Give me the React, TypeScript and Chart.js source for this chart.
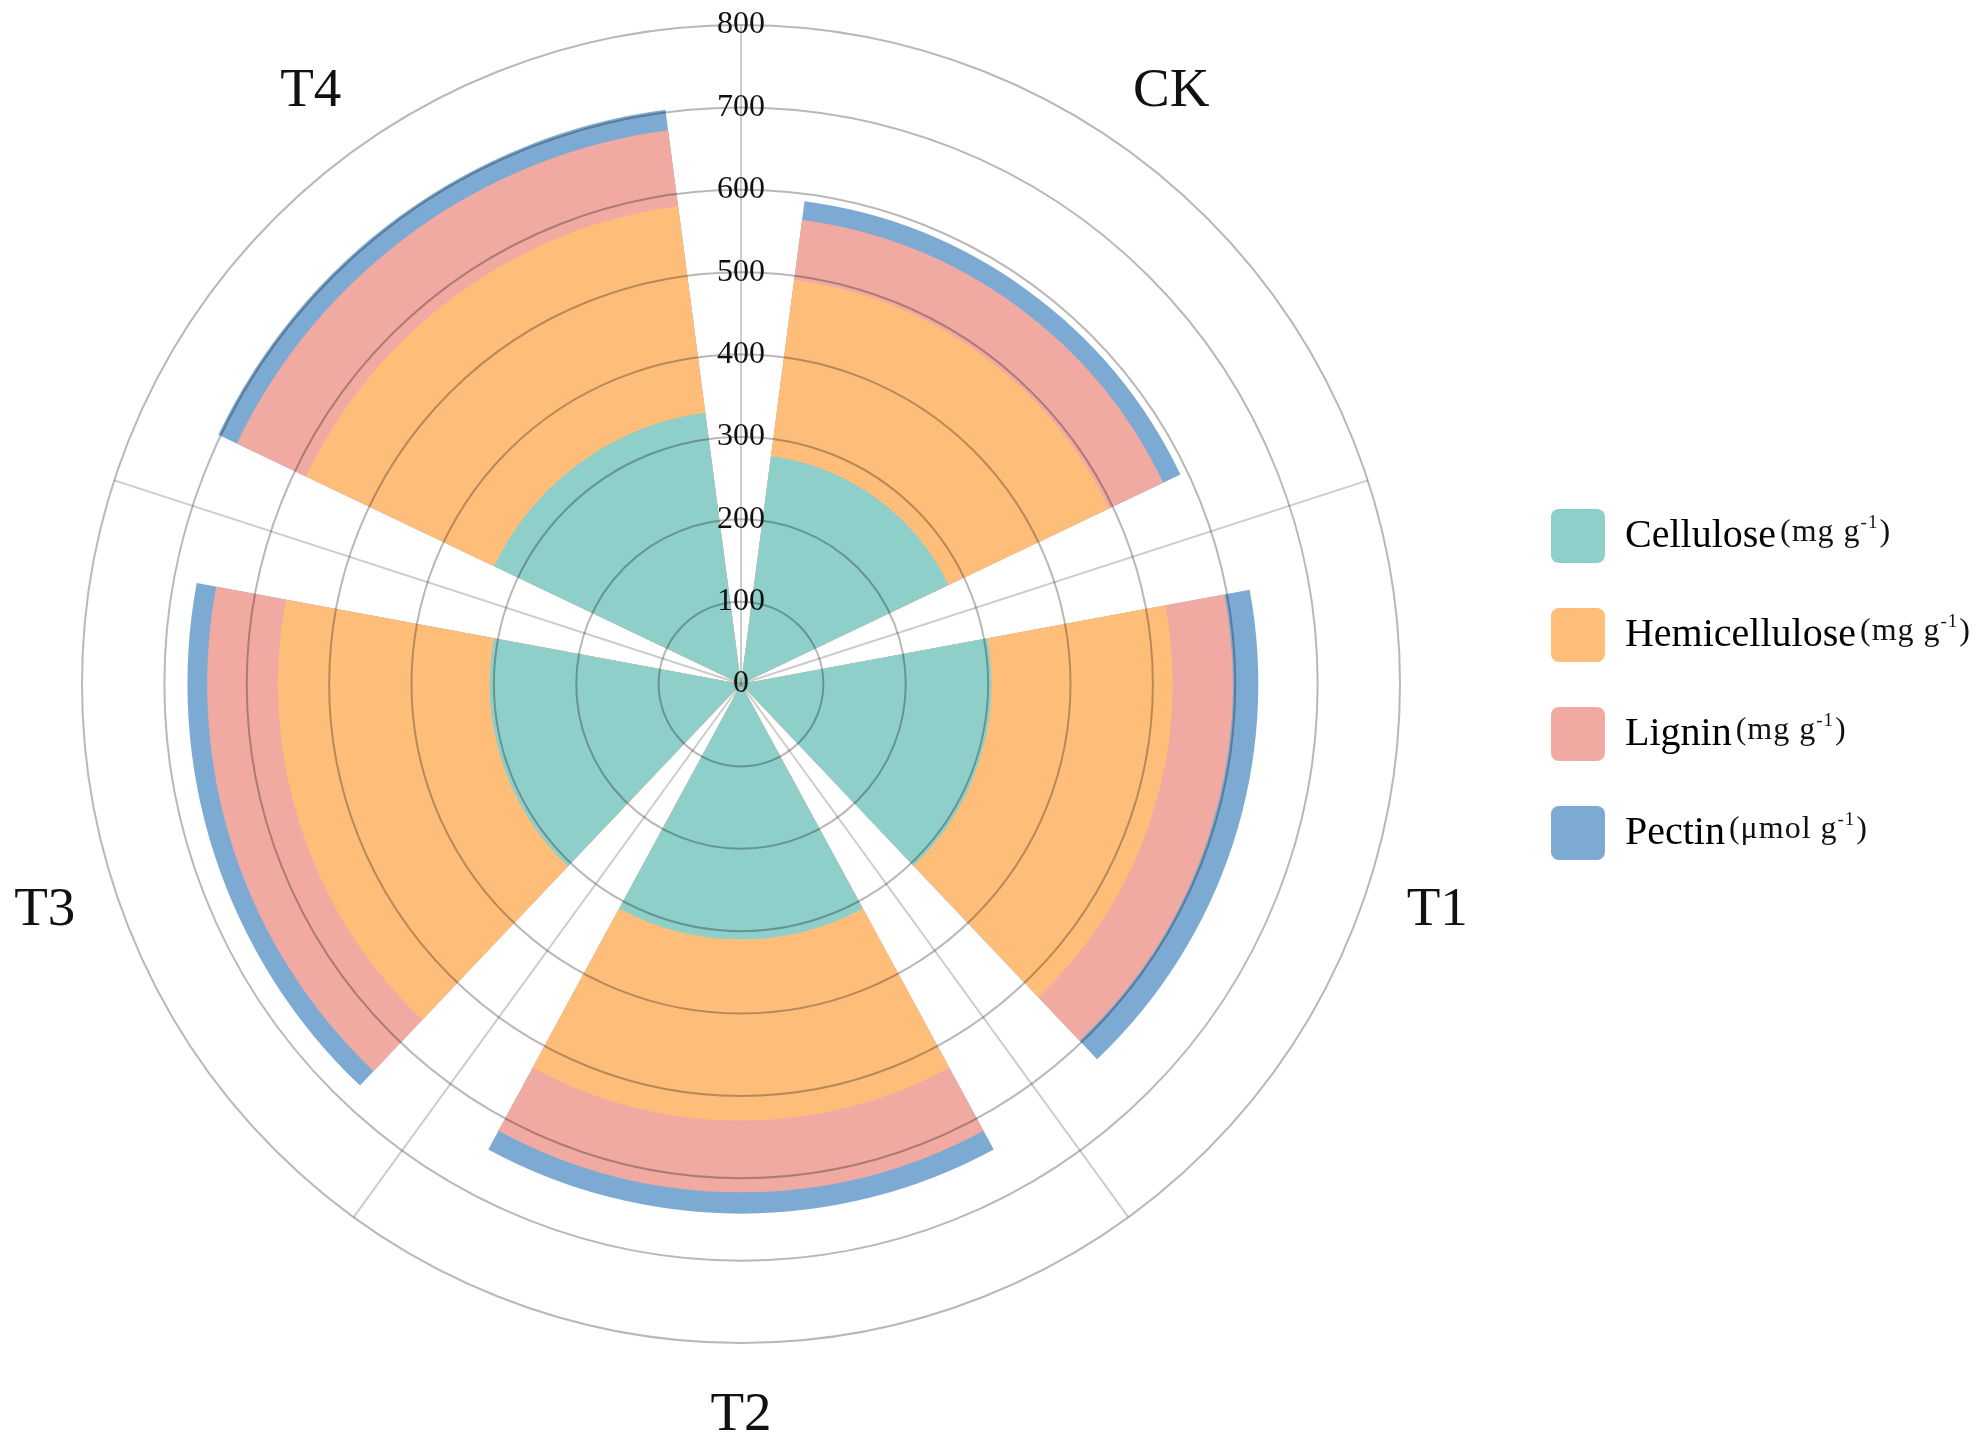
import { useEffect, useRef } from "react"
import { Chart, registerables } from "chart.js"

Chart.register(...registerables)

const SERIF = "'Liberation Serif', 'Times New Roman', Times, serif"

// treatments, clockwise from the top
const groups = ["CK", "T1", "T2", "T3", "T4"]

// thickness of each layer
const cellulose = [279, 304, 310, 305, 332]
const hemicellulose = [216, 220, 220, 257, 253]
const lignin = [73, 73, 87, 86, 93]
const pectin = [23, 31, 26, 24, 25]

const seriesNames = ["Cellulose", "Hemicellulose", "Lignin", "Pectin"]
const seriesUnits = ["(mg g", "(mg g", "(mg g", "(μmol g"]
const seriesColors = ["#8ECFC9", "#FFBD7A", "#F1AAA1", "#7DAAD3"]

// radial axis tick labels
const radialTicks = [0, 100, 200, 300, 400, 500, 600, 700, 800]

// each treatment gets 72°, of which this much is filled
const WEDGE = 57
const GAP = 360 / groups.length - WEDGE

// gap/2, wedge, gap, wedge, ... , wedge, gap/2
const slotAngles: number[] = [GAP / 2]
groups.forEach((_, i) => {
  slotAngles.push(WEDGE)
  slotAngles.push(i === groups.length - 1 ? GAP / 2 : GAP)
})

function toSlots(values: number[]) {
  const out: number[] = [0]
  values.forEach((v) => out.push(v, 0))
  return out
}

const series = [cellulose, hemicellulose, lignin, pectin]
// running totals so the layers look stacked (first drawn on top)
const stacked = series.map((_, k) =>
  groups.map((_, i) => series.slice(0, k + 1).reduce((s, arr) => s + arr[i], 0)),
)

// canvas / layout sizes
const CANVAS_W = 1992
const CANVAS_H = 1425
const AREA_W = 1530
const LEGEND_FONT = 40
const LEGEND_BOX = 54
const LEGEND_PAD = 45

const overlayText = {
  id: "overlayText",
  afterDraw(chart: any) {
    const ctx: CanvasRenderingContext2D = chart.ctx
    const r = chart.scales.r
    ctx.save()
    ctx.fillStyle = "#111"
    ctx.textAlign = "center"
    ctx.textBaseline = "middle"

    // the scale skips its first tick, draw the 0 at the centre
    ctx.font = `32px ${SERIF}`
    ctx.fillText(String(radialTicks[0]), r.xCenter, r.yCenter)

    // treatment names outside the rings
    ctx.font = `55px ${SERIF}`
    groups.forEach((g, i) => {
      const p = r.getPointPosition(i, r.drawingArea + 73, Math.PI / groups.length)
      ctx.fillText(g, p.x, p.y)
    })

    // units after the legend names, smaller with a superscript
    const boxes = chart.legend?.legendHitBoxes ?? []
    boxes.forEach((b: any, i: number) => {
      ctx.font = `${LEGEND_FONT}px ${SERIF}`
      ctx.textBaseline = "middle"
      const mid = b.top + b.height / 2
      const base = mid + ctx.measureText("H").actualBoundingBoxDescent - 6
      ctx.textBaseline = "alphabetic"
      ctx.textAlign = "left"
      ;(ctx as any).letterSpacing = "1px"
      let x = b.left + b.width + 4
      ctx.font = `32px ${SERIF}`
      ctx.fillText(seriesUnits[i], x, base)
      x += ctx.measureText(seriesUnits[i]).width
      ctx.font = `19px ${SERIF}`
      ctx.fillText("-1", x, base - 13)
      x += ctx.measureText("-1").width + 1
      ctx.font = `32px ${SERIF}`
      ctx.fillText(")", x, base)
      ;(ctx as any).letterSpacing = "0px"
    })
    ctx.restore()
  },
}

export default function App() {
  const canvasRef = useRef<HTMLCanvasElement>(null)

  useEffect(() => {
    if (!canvasRef.current) return

    // legend width is padding + box + half font + longest name (+ a few px
    // chart.js adds); the rest goes on the right so the rings stay put
    const mctx = document.createElement("canvas").getContext("2d")!
    mctx.font = `${LEGEND_FONT}px ${SERIF}`
    const textW = Math.max(...seriesNames.map((n) => mctx.measureText(n).width))
    const legendW = LEGEND_PAD + LEGEND_BOX + LEGEND_FONT / 2 + textW + 9
    const padRight = Math.max(0, Math.round(CANVAS_W - AREA_W - legendW))

    const chart = new Chart(canvasRef.current, {
      type: "polarArea",
      data: {
        labels: toSlots(groups.map(() => 0)).map((_, i) => (i % 2 === 1 ? groups[(i - 1) / 2] : "")),
        datasets: seriesNames.map((name, k) => ({
          label: name,
          data: toSlots(stacked[k]),
          backgroundColor: seriesColors[k],
          borderWidth: 0,
          angle: (c: any) => slotAngles[c.dataIndex],
        })) as any,
      },
      options: {
        responsive: true,
        maintainAspectRatio: false,
        animation: false,
        layout: { padding: { left: 0, right: padRight, top: 0, bottom: 72 } },
        elements: { arc: { borderWidth: 0 } },
        scales: {
          r: {
            labels: groups,
            min: radialTicks[0],
            max: radialTicks[radialTicks.length - 1],
            startAngle: 0,
            grid: { circular: true, color: "rgba(0,0,0,0.28)", lineWidth: 2, z: 1 },
            angleLines: { display: true, color: "rgba(0,0,0,0.2)", lineWidth: 2 },
            pointLabels: { display: false },
            ticks: {
              stepSize: 100,
              z: 1,
              showLabelBackdrop: false,
              backdropPadding: 1.5,
              color: "#111",
              font: { family: SERIF, size: 32 },
            },
          } as any,
        },
        plugins: {
          tooltip: { enabled: false },
          legend: {
            position: "right",
            align: "center",
            onClick: () => {},
            labels: {
              boxWidth: LEGEND_BOX,
              boxHeight: LEGEND_BOX,
              padding: LEGEND_PAD,
              color: "#111",
              font: { family: SERIF, size: LEGEND_FONT },
              useBorderRadius: true,
              borderRadius: 8,
              generateLabels: () =>
                seriesNames.map((text, i) => ({
                  text,
                  fillStyle: seriesColors[i],
                  strokeStyle: seriesColors[i],
                  lineWidth: 0,
                  hidden: false,
                  datasetIndex: i,
                  borderRadius: 8,
                })),
            },
          },
        },
      },
      plugins: [overlayText],
    })
    return () => chart.destroy()
  }, [])

  return (
    <div style={{ position: "relative", marginLeft: -31, width: CANVAS_W, height: CANVAS_H }}>
      <canvas ref={canvasRef}></canvas>
    </div>
  )
}
